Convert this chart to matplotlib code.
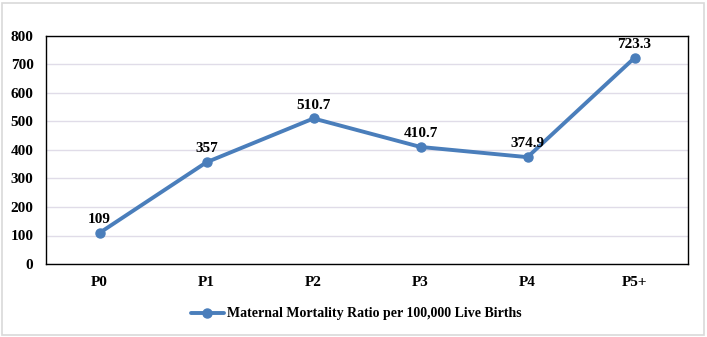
import numpy as np
import matplotlib.pyplot as plt
from matplotlib.patches import Rectangle

categories = ['P0', 'P1', 'P2', 'P3', 'P4', 'P5+']
mmr = [109, 357, 510.7, 410.7, 374.9, 723.3]
labels = ['109', '357', '510.7', '410.7', '374.9', '723.3']
series_name = 'Maternal Mortality Ratio per 100,000 Live Births'

plt.rcParams['font.family'] = ['Liberation Serif', 'DejaVu Serif']
plt.rcParams['font.weight'] = 'bold'

fig = plt.figure(figsize=(7.07, 3.37), dpi=100)
ax = fig.add_axes([46/707, 1 - 264/337, 642/707, 228/337])

x = np.arange(len(categories))
line_color = '#4a7ebb'
ax.plot(x, mmr, color=line_color, lw=2.8, marker='o', ms=6.5,
        label=series_name, solid_capstyle='round', zorder=3)

for xi, yi, t in zip(x, mmr, labels):
    ax.annotate(t, (xi, yi), xytext=(0, 5), textcoords='offset points',
                ha='center', va='bottom', fontsize=11, fontweight='bold')

ax.set_xlim(-0.5, len(categories) - 0.5)
ax.set_ylim(0, 800)
ax.set_yticks(range(0, 801, 100))
ax.set_xticks(x)
ax.set_xticklabels(categories)
ax.tick_params(axis='both', length=0, labelsize=11)
ax.tick_params(axis='x', pad=9)
ax.tick_params(axis='y', pad=9)
ax.yaxis.grid(True, color='#e0dce8', lw=1)
ax.set_axisbelow(True)
for s in ax.spines.values():
    s.set_color('black')
    s.set_linewidth(1)

ax.legend(loc='center', bbox_to_anchor=(356/707, 1 - 314/337),
          bbox_transform=fig.transFigure, frameon=False, fontsize=10,
          handlelength=2.4, handletextpad=0.2)

fig.patches.append(Rectangle((2/707, 2/337), 702/707, 332/337,
                             transform=fig.transFigure, fill=False,
                             edgecolor='#d9d9d9', lw=1.2))

fig.savefig('out.png', dpi=100)
